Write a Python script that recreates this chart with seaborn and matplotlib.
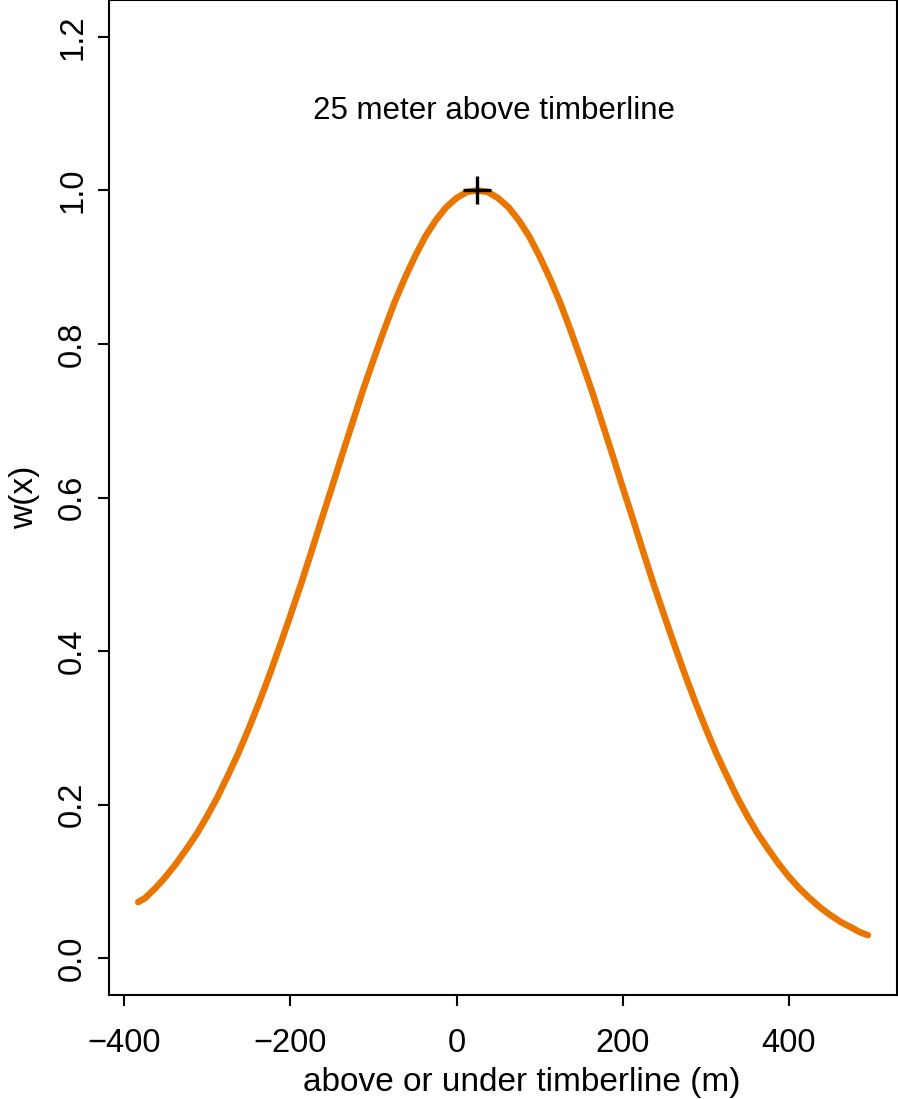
import matplotlib
matplotlib.use("Agg")
import matplotlib.pyplot as plt
import seaborn as sns
import pandas as pd

# values
x_m = [-383, -375, -362.5, -350, -337.5, -325, -312.5, -300, -287.5, -275,
       -262.5, -250, -237.5, -225, -212.5, -200, -187.5, -175, -162.5, -150,
       -137.5, -125, -112.5, -100, -87.5, -75, -62.5, -50, -37.5, -25, -12.5,
       0, 12.5, 25, 37.5, 50, 62.5, 75, 87.5, 100, 112.5, 125, 137.5, 150,
       162.5, 175, 187.5, 200, 212.5, 225, 237.5, 250, 262.5, 275, 287.5, 300,
       312.5, 325, 337.5, 350, 362.5, 375, 387.5, 400, 412.5, 425, 437.5, 450,
       462.5, 475, 485, 495]
w_x = [0.073, 0.078, 0.091, 0.106, 0.123, 0.142, 0.162, 0.185, 0.210, 0.238,
       0.267, 0.299, 0.333, 0.369, 0.407, 0.446, 0.486, 0.528, 0.571, 0.613,
       0.656, 0.698, 0.740, 0.779, 0.817, 0.853, 0.885, 0.914, 0.940, 0.961,
       0.978, 0.990, 0.998, 1.000, 0.998, 0.990, 0.978, 0.961, 0.940, 0.914,
       0.885, 0.853, 0.817, 0.779, 0.740, 0.698, 0.656, 0.613, 0.571, 0.528,
       0.486, 0.446, 0.407, 0.369, 0.333, 0.299, 0.267, 0.238, 0.210, 0.185,
       0.162, 0.142, 0.123, 0.106, 0.091, 0.078, 0.066, 0.056, 0.047, 0.040,
       0.034, 0.030]
peak_x = [25]
peak_y = [1.0]
x_ticks = [-400, -200, 0, 200, 400]
x_tick_labels = ["\u2212400", "\u2212200", "0", "200", "400"]
y_ticks = [0.0, 0.2, 0.4, 0.6, 0.8, 1.0, 1.2]
annotation = "25 meter above timberline"

sns.set_style("ticks")
plt.rcParams["font.family"] = ["Liberation Sans", "DejaVu Sans"]
plt.rcParams["text.color"] = "black"
plt.rcParams["axes.labelcolor"] = "black"
plt.rcParams["xtick.color"] = "black"
plt.rcParams["ytick.color"] = "black"

fig = plt.figure(figsize=(8.98, 10.99), dpi=100)
ax = fig.add_axes([0.1214, 0.0946, 0.8776, 0.9054])

df = pd.DataFrame({"x": x_m, "w": w_x})
sns.lineplot(data=df, x="x", y="w", ax=ax, color="#E87600", linewidth=4.7,
             solid_capstyle="round", solid_joinstyle="round", sort=False)
ax.plot(peak_x, peak_y, marker="+", color="black", markersize=20,
        markeredgewidth=2.4, linestyle="none")
ax.text(45, 1.103, annotation, ha="center", va="center", fontsize=22.5,
        color="black")

ax.set_xlim(-418.1, 530.1)
ax.set_ylim(-0.048, 1.248)
ax.set_xticks(x_ticks)
ax.set_xticklabels(x_tick_labels)
ax.set_yticks(y_ticks)
ax.set_yticklabels([f"{v:.1f}" for v in y_ticks], rotation=90, va="center")

for s in ax.spines.values():
    s.set_visible(True)
    s.set_linewidth(1.5)
    s.set_color("black")
ax.tick_params(axis="both", length=8, width=1.5, labelsize=23.5,
               color="black", labelcolor="black")
ax.tick_params(axis="x", pad=16)
ax.tick_params(axis="y", pad=7)

ax.set_xlabel("above or under timberline (m)", fontsize=24, color="black")
ax.xaxis.set_label_coords(0.524, -0.072)
ax.set_ylabel("w(x)", fontsize=24, labelpad=12, color="black")

fig.savefig("out.png", dpi=100)
